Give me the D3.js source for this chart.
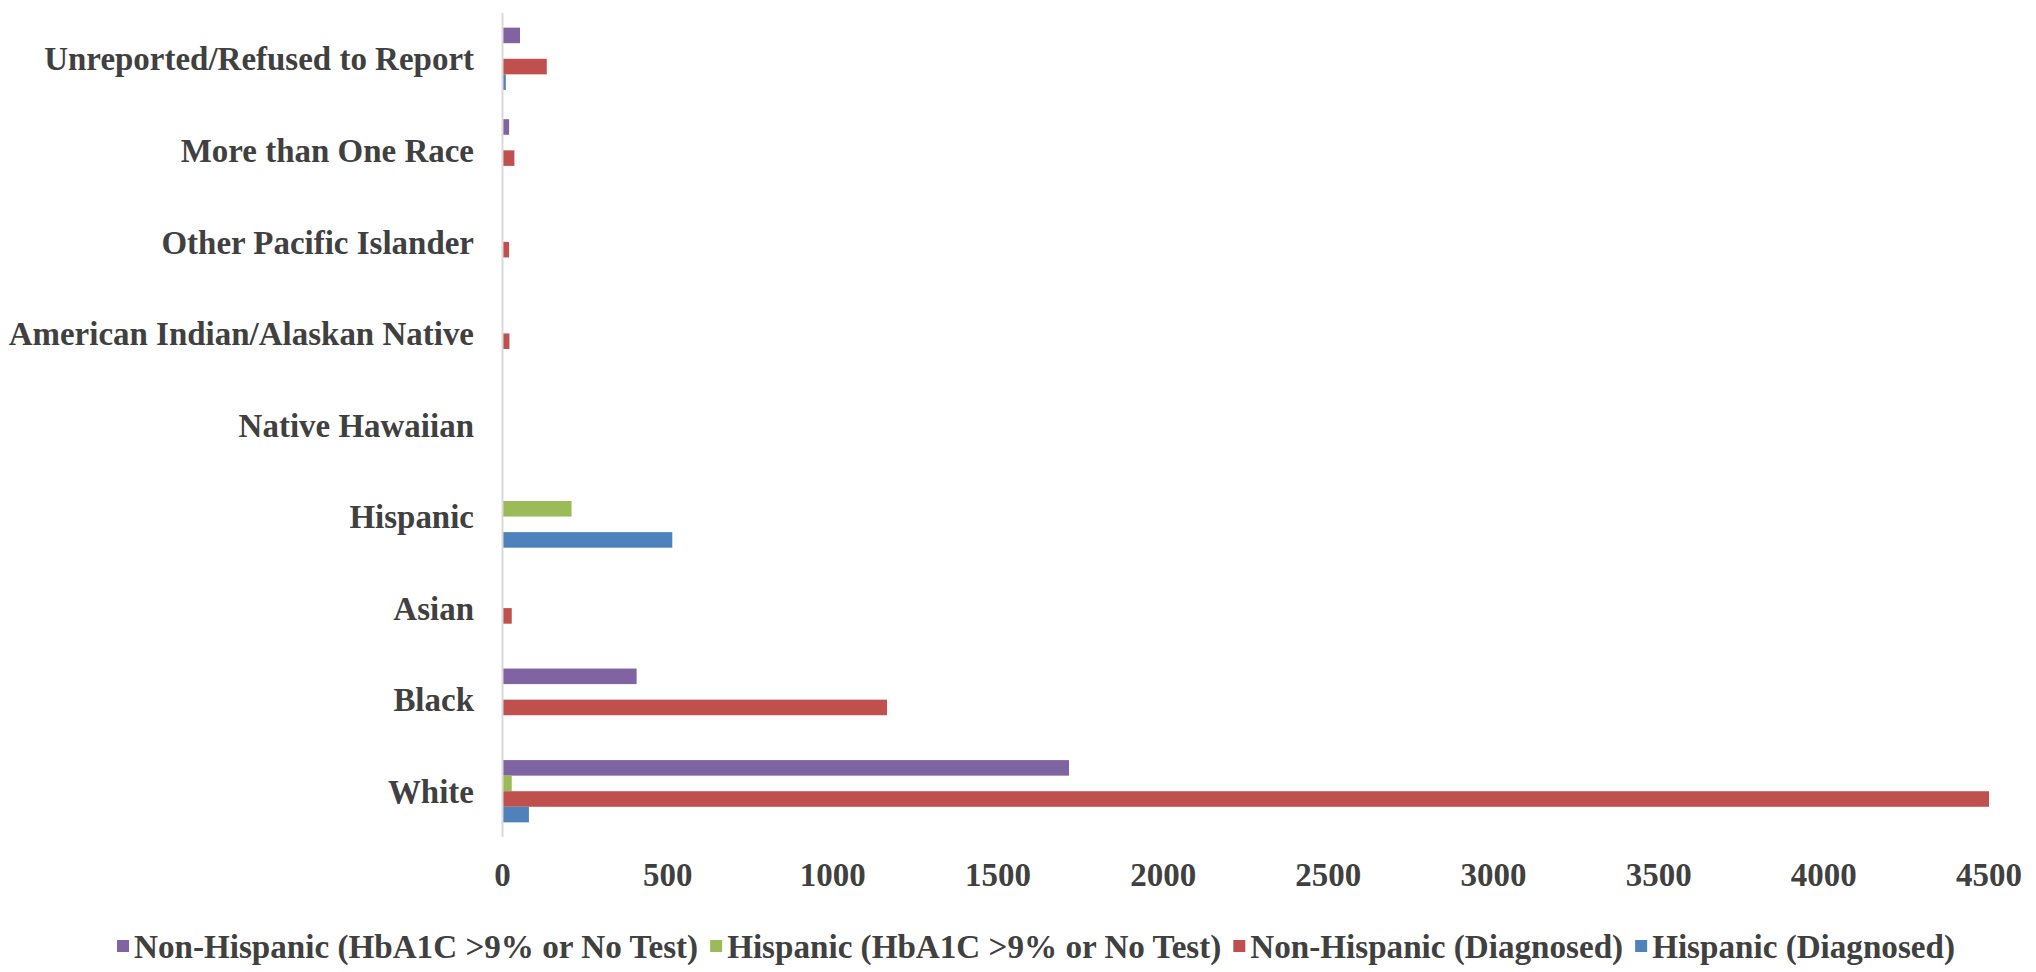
<!DOCTYPE html>
<html>
<head>
<meta charset="utf-8">
<script src="https://cdn.jsdelivr.net/npm/d3@7"></script>
<style>
  html, body { margin: 0; padding: 0; background: #fff; }
  svg text { font-family: "Liberation Serif", "Times New Roman", serif; font-weight: bold; fill: #404040; }
</style>
</head>
<body>
<svg id="chart" width="2036" height="972"></svg>
<script>
// Race categories, listed bottom to top on the chart
const categories = [
  "White", "Black", "Asian", "Hispanic", "Native Hawaiian",
  "American Indian/Alaskan Native", "Other Pacific Islander",
  "More than One Race", "Unreported/Refused to Report"
];

// Patient counts per category
const hispanicDiagnosed      = [80, 0, 0, 514, 0, 0, 0, 0, 10];
const nonHispanicDiagnosed   = [4500, 1164, 28, 0, 0, 21, 20, 36, 134];
const hispanicHbA1c          = [28, 0, 0, 209, 0, 0, 0, 0, 0];
const nonHispanicHbA1c       = [1715, 406, 0, 0, 0, 0, 0, 20, 53];

const seriesNames = [
  "Non-Hispanic (HbA1C >9% or No Test)",
  "Hispanic (HbA1C >9% or No Test)",
  "Non-Hispanic (Diagnosed)",
  "Hispanic (Diagnosed)"
];
const seriesValues = [nonHispanicHbA1c, hispanicHbA1c, nonHispanicDiagnosed, hispanicDiagnosed];
const seriesColors = ["#8064A2", "#9BBB59", "#C0504D", "#4F81BD"];

const xTicks = [0, 500, 1000, 1500, 2000, 2500, 3000, 3500, 4000, 4500];

// layout
const plot = { left: 502.5, right: 1989, top: 13, bottom: 837 };
const fontSize = 34;

const svg = d3.select("#chart");

const x = d3.scaleLinear().domain([0, 4500]).range([plot.left, plot.right]);
const y = d3.scaleBand()
  .domain(categories.slice().reverse())
  .range([plot.top, plot.bottom])
  .paddingInner(0.32)
  .paddingOuter(0.16);
const yInner = d3.scaleBand()
  .domain(d3.range(seriesNames.length))
  .range([0, y.bandwidth()]);

// bars
seriesValues.forEach((vals, s) => {
  svg.append("g")
    .selectAll("rect")
    .data(categories.map((c, i) => ({ c, v: vals[i] })).filter(d => d.v > 0))
    .join("rect")
    .attr("x", x(0))
    .attr("y", d => y(d.c) + yInner(s))
    .attr("width", d => x(d.v) - x(0))
    .attr("height", yInner.bandwidth())
    .attr("fill", seriesColors[s]);
});

// vertical category axis line
svg.append("line")
  .attr("x1", x(0)).attr("x2", x(0))
  .attr("y1", plot.top).attr("y2", plot.bottom)
  .attr("stroke", "#d9d9d9").attr("stroke-width", 2);

function squeezedText(g, tx, ty, str, anchor, sx) {
  return g.append("text")
    .attr("transform", `translate(${tx},${ty}) scale(${sx},1)`)
    .attr("text-anchor", anchor)
    .attr("dominant-baseline", "central")
    .style("font-size", fontSize + "px")
    .text(str);
}

// category labels
const catG = svg.append("g");
categories.forEach(c => {
  squeezedText(catG, 474, y(c) + y.bandwidth() / 2, c, "end", 0.97);
});

// value axis tick labels
const tickG = svg.append("g");
xTicks.forEach(t => {
  squeezedText(tickG, x(t), 874, d3.format("d")(t), "middle", 0.97);
});

// legend, centred under the chart
const legendG = svg.append("g");
const legendY = 946;
const sq = 12;
const gap = 5;
const itemGap = 12;
const legendSqueeze = 0.975;
let lx = 0;
seriesNames.forEach((name, s) => {
  legendG.append("rect")
    .attr("x", lx).attr("y", legendY - sq / 2)
    .attr("width", sq).attr("height", sq)
    .attr("fill", seriesColors[s]);
  const t = squeezedText(legendG, lx + sq + gap, legendY, name, "start", legendSqueeze);
  const w = t.node().getComputedTextLength() * legendSqueeze;
  lx += sq + gap + w + itemGap;
});
const legendWidth = lx - itemGap;
legendG.attr("transform", `translate(${1036 - legendWidth / 2},0)`);
</script>
</body>
</html>
